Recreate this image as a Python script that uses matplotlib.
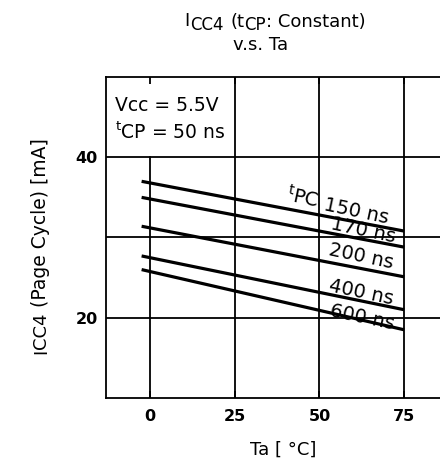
import matplotlib
matplotlib.use("Agg")
import matplotlib.pyplot as plt
from matplotlib.transforms import IdentityTransform

plt.rcParams['font.family'] = ['DejaVu Sans']
plt.rcParams['mathtext.fontset'] = 'dejavusans'

# Data
ta = [-2.5, 75]
series_labels = ["150 ns", "170 ns", "200 ns", "400 ns", "600 ns"]
icc_150 = [37.0, 30.8]
icc_170 = [35.0, 28.8]
icc_200 = [31.4, 25.1]
icc_400 = [27.7, 21.0]
icc_600 = [26.0, 18.5]
series = [icc_150, icc_170, icc_200, icc_400, icc_600]
label_pos = [(60.8, 33.3), (63.0, 30.9), (62.3, 27.6), (62.3, 23.1), (62.5, 20.1)]
xticks = [0, 25, 50, 75]
yticks = [20, 40]
ygrid = [20, 30, 40]

W, H, DPI = 4.4, 4.63, 100
fig = plt.figure(figsize=(W, H), dpi=DPI)
ax = fig.add_axes([0.241, 0.1404, 0.87, 0.6933])
ax.set_xlim(-13, 100)
ax.set_ylim(10, 50)
renderer = fig.canvas.get_renderer()


def runs_text(x, y, runs, rotation=0, center=True):
    """Place text runs (text, size, drop_px, gap_px) sequentially in display px."""
    objs = []
    widths = []
    for s, size, drop, gap in runs:
        t = fig.text(0, 0, s, fontsize=size, transform=IdentityTransform(),
                     ha='left', va='baseline')
        widths.append(t.get_window_extent(renderer).width)
        objs.append(t)
    total = sum(widths) + sum(r[3] for r in runs[:-1])
    pos = -total / 2 if center else 0
    for t, w, (s, size, drop, gap) in zip(objs, widths, runs):
        if rotation == 0:
            t.set_position((x + pos, y - drop))
        else:
            t.set_position((x + drop, y + pos))
            t.set_rotation(90)
            t.set_rotation_mode('anchor')
        pos += w + gap


# grid
for y in ygrid:
    ax.axhline(y, color='black', lw=1.3, zorder=1)
for x in xticks:
    if x == 0:
        ax.plot([x, x], [10, 40], color='black', lw=1.3, zorder=1)
    else:
        ax.axvline(x, color='black', lw=1.3, zorder=1)

for vals in series:
    ax.plot(ta, vals, color='black', lw=2.3, zorder=3, solid_capstyle='butt')

for lab, (x, y) in zip(series_labels, label_pos):
    ax.text(x, y, lab, rotation=-12, ha='center', va='center', fontsize=14,
            zorder=4, rotation_mode='anchor')
ax.text(45.0, 35.0, "$^{\\mathrm{t}}$PC", rotation=-12, ha='center', va='center',
        fontsize=14, zorder=4, rotation_mode='anchor')

ax.text(-10.5, 45.75, "Vcc = 5.5V", fontsize=13.5, ha='left', va='baseline')
ax.text(-10.5, 42.25, "$^{\\mathrm{t}}$CP = 50 ns", fontsize=13.5, ha='left', va='baseline')

ax.set_xticks(xticks)
ax.set_yticks(yticks)
ax.tick_params(axis='both', labelsize=11.5, pad=6, width=1.3, length=0)
ax.tick_params(axis='x', top=True, direction='in', length=5, pad=8)
for lab in ax.get_xticklabels() + ax.get_yticklabels():
    lab.set_fontweight('bold')
for s in ax.spines.values():
    s.set_linewidth(1.3)

# axis labels
runs_text(283, 8, [("Ta [ °C]", 13, 0, 0)])
runs_text(46, 463 - 246, [("I", 13, 0, 0), ("CC4", 13, 0, 5),
                          ("(Page Cycle) [mA]", 13.5, 0, 0)], rotation=90)
# title
runs_text(275, 463 - 27, [("I", 13, -1, 0), ("CC4", 12, 2.5, 7), ("(t", 13, 0, 0),
                          ("CP", 12, 2.5, 0), (": Constant)", 13, 0, 0)])
runs_text(261, 463 - 50, [("v.s. Ta", 13, 0, 0)])

fig.savefig("out.png", dpi=DPI)
